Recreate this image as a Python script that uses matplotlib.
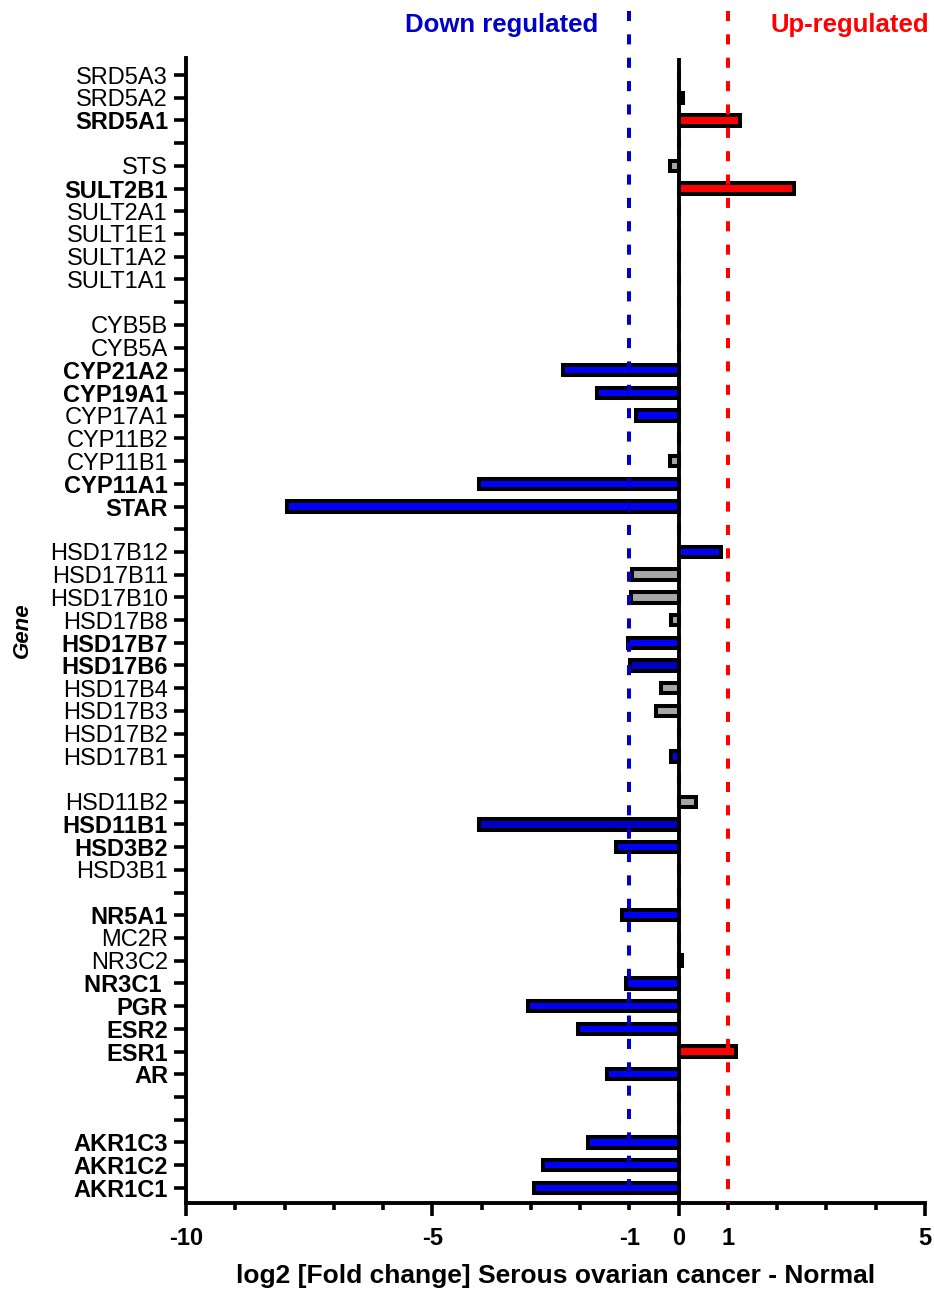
import numpy as np
import matplotlib
matplotlib.use("Agg")
import matplotlib.pyplot as plt
from matplotlib.ticker import FixedLocator, FixedFormatter

plt.rcParams['font.family'] = ['Liberation Sans', 'DejaVu Sans']

# gene rows top -> bottom, "" = empty separator row
genes = ["SRD5A3", "SRD5A2", "SRD5A1", "",
         "STS", "SULT2B1", "SULT2A1", "SULT1E1", "SULT1A2", "SULT1A1", "",
         "CYB5B", "CYB5A", "CYP21A2", "CYP19A1", "CYP17A1", "CYP11B2", "CYP11B1", "CYP11A1", "STAR", "",
         "HSD17B12", "HSD17B11", "HSD17B10", "HSD17B8", "HSD17B7", "HSD17B6", "HSD17B4", "HSD17B3",
         "HSD17B2", "HSD17B1", "",
         "HSD11B2", "HSD11B1", "HSD3B2", "HSD3B1", "",
         "NR5A1", "MC2R", "NR3C2", "NR3C1 ", "PGR", "ESR2", "ESR1", "AR", "", "",
         "AKR1C3", "AKR1C2", "AKR1C1"]

log2fc = [0, 0.08, 1.25, 0,
          -0.17, 2.35, 0, 0, 0, 0, 0,
          0, 0, -2.35, -1.65, -0.86, 0, -0.17, -4.06, -7.96, 0,
          0.86, -0.95, -0.97, -0.16, -1.02, -0.99, -0.36, -0.47,
          0, -0.16, 0,
          0.35, -4.06, -1.27, 0, 0,
          -1.16, 0, 0.06, -1.07, -3.05, -2.04, 1.16, -1.45, 0, 0,
          -1.85, -2.75, -2.94]

# b = blue, d = dark blue, r = red, g = grey
bar_kind = ["g", "g", "r", "g",
            "g", "r", "g", "g", "g", "g", "g",
            "g", "g", "b", "b", "b", "g", "g", "b", "b", "g",
            "b", "g", "g", "g", "b", "d", "g", "g",
            "g", "b", "g",
            "g", "d", "b", "g", "g",
            "b", "g", "g", "b", "b", "b", "r", "b", "g", "g",
            "b", "b", "b"]

bold_genes = ["SRD5A1", "SULT2B1", "CYP21A2", "CYP19A1", "CYP11A1", "STAR",
              "HSD17B7", "HSD17B6", "HSD11B1", "HSD3B2", "NR5A1", "NR3C1 ",
              "PGR", "ESR2", "ESR1", "AR", "AKR1C3", "AKR1C2", "AKR1C1"]

major_x = [-10, -5, 0, 5]
minor_x = list(range(-10, 6))
thresholds = [-1, 1]

palette = {"b": "#0000ff", "d": "#0000c4", "r": "#ff0000", "g": "#a6a6a6"}

fig = plt.figure(figsize=(9.34, 12.9), dpi=100)
ax = fig.add_axes([186 / 934, 1 - 1203 / 1290, 739 / 934, (1203 - 58) / 1290])

rows = np.arange(len(genes))
ax.barh(rows, log2fc, height=0.46, color=[palette[k] for k in bar_kind],
        edgecolor="black", linewidth=2.9, zorder=3)

ax.axvline(0, color="black", lw=2.8, zorder=4)

y_bottom = len(genes) - 1 + 0.67
ax.set_xlim(-10, 5)
ax.set_ylim(y_bottom, -0.75)

# threshold dashed lines, running up past the axes (drawn top -> bottom)
y_top = -2.8
ax.plot([-1, -1], [y_top, y_bottom], color="#0000c8", lw=2.9,
        linestyle=(0, (2.5, 3.3)), clip_on=False, zorder=5)
ax.plot([1, 1], [y_top, y_bottom], color="#ff0000", lw=2.9,
        linestyle=(0, (2.5, 3.3)), clip_on=False, zorder=5)

ax.spines['top'].set_visible(False)
ax.spines['right'].set_visible(False)
ax.spines['left'].set_linewidth(2.8)
ax.spines['bottom'].set_linewidth(2.8)

ax.set_yticks(rows)
ax.set_yticklabels(genes, fontsize=17)
for lab in ax.get_yticklabels():
    if lab.get_text() in bold_genes:
        lab.set_fontweight("bold")
ax.tick_params(axis="y", length=9, width=2.6, pad=4)

ax.xaxis.set_major_locator(FixedLocator(major_x))
ax.xaxis.set_major_formatter(FixedFormatter([str(v) for v in major_x]))
ax.xaxis.set_minor_locator(FixedLocator([v for v in minor_x if v not in major_x]))
ax.xaxis.set_minor_formatter(FixedFormatter(
    [str(v) if v in thresholds else "" for v in minor_x if v not in major_x]))
ax.tick_params(axis="x", which="major", length=9, width=2.6, pad=8, labelsize=17)
ax.tick_params(axis="x", which="minor", length=5, width=2.6, pad=12, labelsize=17)
for lab in ax.get_xticklabels(which="both"):
    lab.set_fontweight("bold")

ax.set_xlabel("log2 [Fold change] Serous ovarian cancer - Normal", fontsize=19, fontweight="bold")
ax.xaxis.set_label_coords(0.5, -0.064)
ax.xaxis.label.set_va("center")
ax.set_ylabel("Gene", fontsize=16, fontweight="bold", style="italic")
ax.yaxis.set_label_coords(-0.222, 0.5)
ax.yaxis.label.set_va("center")

fig.text(502 / 934, 1 - 25 / 1290, "Down regulated", color="#0000c8", fontsize=18.5,
         fontweight="bold", ha="center", va="center")
fig.text(850 / 934, 1 - 25 / 1290, "Up-regulated", color="#ff0000", fontsize=18.5,
         fontweight="bold", ha="center", va="center")

fig.savefig("out.png", dpi=100)
